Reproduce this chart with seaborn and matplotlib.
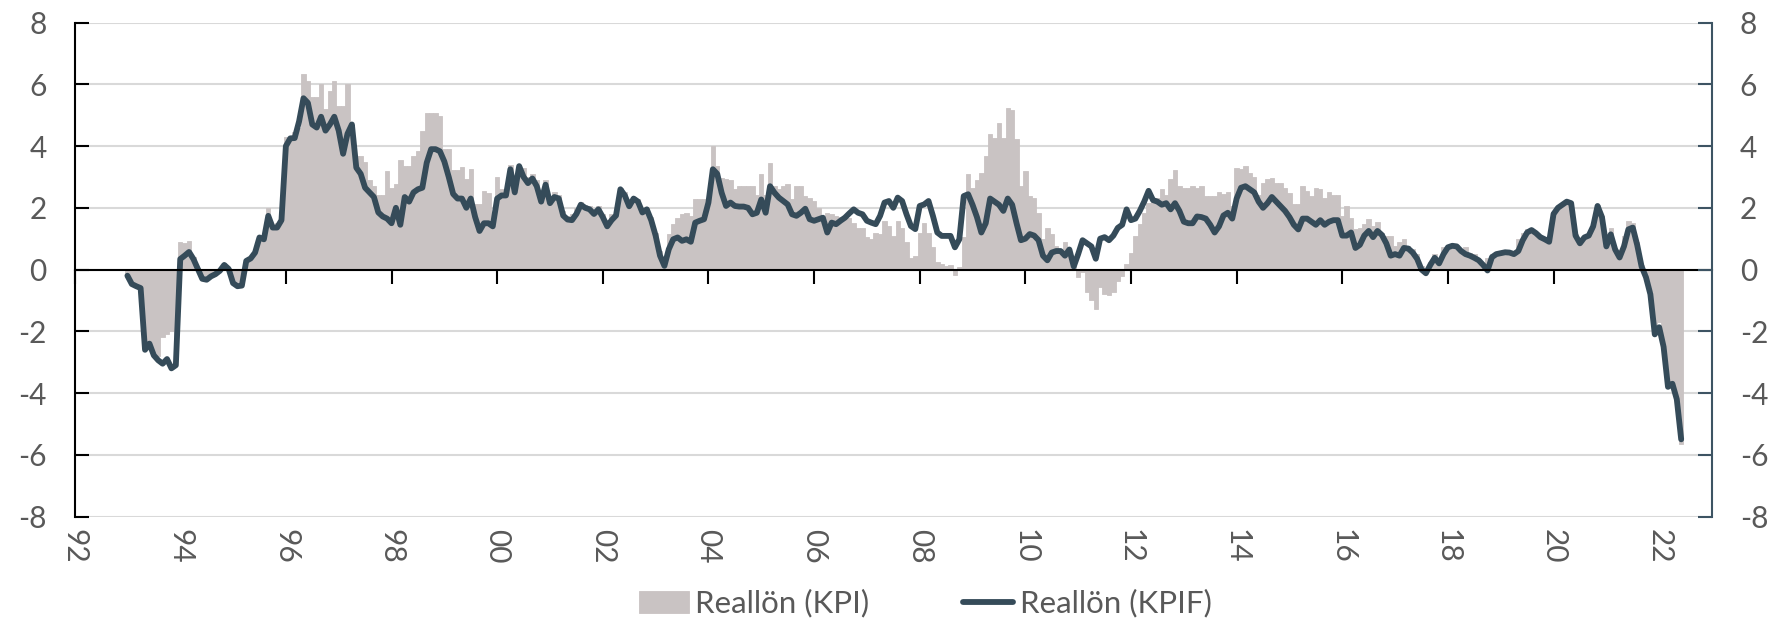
import matplotlib
matplotlib.use("Agg")
import matplotlib.pyplot as plt
import seaborn as sns
import numpy as np
import pandas as pd

# Monthly real wage growth, Jan 1993 - Jun 2022 (percent, y/y)
start_year = 1993

kpi = [
    # 1993
    -0.2, -0.45, -0.55, -0.6, -2.5, -2.4, -2.7, -2.8, -2.2, -2.1, -2.0, -2.9,
    # 1994
    0.88, 0.85, 0.93, 0.4, 0.05, -0.25, -0.3, -0.2, -0.1, 0.0, 0.2, 0.05,
    # 1995
    -0.4, -0.5, -0.45, 0.3, 0.4, 0.6, 1.1, 1.05, 2.0, 1.45, 1.5, 1.85,
    # 1996
    4.3, 4.3, 4.47, 4.6, 6.35, 6.1, 5.6, 5.6, 6.0, 5.2, 5.8, 6.1,
    # 1997
    5.3, 5.3, 6.0, 4.37, 3.67, 3.67, 3.5, 2.9, 2.7, 2.4, 2.4, 3.2,
    # 1998
    2.65, 2.76, 3.56, 3.35, 3.35, 3.67, 3.83, 4.48, 5.07, 5.07, 5.07, 4.96,
    # 1999
    3.9, 3.9, 3.24, 3.24, 3.33, 2.92, 3.26, 2.11, 2.11, 2.56, 2.49, 1.6,
    # 2000
    3.0, 2.6, 2.6, 3.4, 3.0, 3.4, 3.3, 3.0, 3.1, 2.9, 2.4, 2.9,
    # 2001
    2.3, 2.5, 2.4, 1.9, 1.75, 1.8, 2.0, 2.2, 2.1, 2.05, 1.95, 2.05,
    # 2002
    1.8, 1.6, 1.8, 1.85, 2.65, 2.5, 2.15, 2.35, 2.3, 1.95, 2.0, 1.7,
    # 2003
    1.2, 0.6, 0.3, 1.15, 1.47, 1.68, 1.79, 1.84, 1.75, 2.3, 2.3, 2.3,
    # 2004
    2.3, 4.0, 3.35, 2.97, 2.92, 2.9, 2.6, 2.7, 2.7, 2.7, 2.7, 2.43,
    # 2005
    3.08, 2.43, 3.46, 2.7, 2.6, 2.7, 2.76, 2.27, 2.7, 2.7, 2.38, 2.33,
    # 2006
    2.22, 2.0, 1.74, 1.84, 1.8, 1.74, 1.7, 1.74, 1.68, 1.52, 1.36, 1.36,
    # 2007
    1.04, 0.98, 1.2, 1.15, 1.58, 1.41, 1.09, 1.58, 1.36, 0.88, 0.39, 0.45,
    # 2008
    1.2, 1.52, 1.2, 0.72, 0.23, 0.18, 0.12, 0.15, -0.18, 0.07, 1.04, 3.08,
    # 2009
    2.65, 2.9, 3.13, 3.67, 4.4, 4.26, 4.75, 4.26, 5.23, 5.18, 4.23, 2.7,
    # 2010
    3.2, 2.38, 2.33, 1.84, 0.98, 1.36, 1.15, 0.77, 0.55, 0.88, 0.55, 0.12,
    # 2011
    -0.25, -0.09, -0.74, -1.0, -1.27, -0.58, -0.79, -0.82, -0.74, -0.36, -0.2, 0.18,
    # 2012
    0.55, 1.09, 1.47, 1.84, 2.17, 2.27, 2.33, 2.6, 2.43, 2.92, 3.24, 2.7,
    # 2013
    2.65, 2.65, 2.7, 2.65, 2.7, 2.38, 2.38, 2.38, 2.5, 2.45, 2.5, 2.06,
    # 2014
    3.3, 3.25, 3.35, 3.13, 3.0, 2.4, 2.81, 2.94, 2.97, 2.81, 2.81, 2.65,
    # 2015
    2.49, 2.11, 2.11, 2.7, 2.54, 2.38, 2.65, 2.6, 2.33, 2.51, 2.43, 2.43,
    # 2016
    1.74, 2.06, 1.68, 1.3, 1.36, 1.47, 1.65, 1.41, 1.54, 1.2, 1.09, 1.09,
    # 2017
    0.77, 0.88, 0.98, 0.77, 0.66, 0.5, 0.12, 0.0, 0.23, 0.5, 0.39, 0.72,
    # 2018
    0.8, 0.8, 0.8, 0.66, 0.72, 0.55, 0.5, 0.33, 0.07, 0.39, 0.5, 0.5,
    # 2019
    0.5, 0.5, 0.5, 0.45, 0.98, 1.2, 1.3, 1.3, 1.2, 1.1, 1.0, 0.95,
    # 2020
    1.85, 2.05, 2.15, 2.25, 2.2, 1.15, 0.9, 1.05, 1.15, 1.45, 2.1, 1.75,
    # 2021
    0.8, 1.36, 0.7, 0.45, 1.09, 1.58, 1.5, 0.9, 0.15, -0.1, -0.7, -1.8,
    # 2022
    -1.7, -2.4, -3.6, -3.8, -4.3, -5.65,
]

kpif = [
    # 1993
    -0.2, -0.47, -0.54, -0.6, -2.6, -2.4, -2.78, -2.94, -3.05, -2.9, -3.2, -3.1,
    # 1994
    0.34, 0.45, 0.57, 0.34, 0.02, -0.3, -0.33, -0.22, -0.15, -0.04, 0.15, 0.02,
    # 1995
    -0.44, -0.54, -0.52, 0.28, 0.36, 0.55, 1.04, 0.98, 1.74, 1.36, 1.36, 1.6,
    # 1996
    4.0, 4.25, 4.26, 4.8, 5.55, 5.4, 4.7, 4.6, 4.95, 4.5, 4.7, 4.95,
    # 1997
    4.5, 3.75, 4.4, 4.7, 3.3, 3.1, 2.65, 2.5, 2.35, 1.85, 1.72, 1.65,
    # 1998
    1.5, 2.0, 1.45, 2.35, 2.2, 2.5, 2.6, 2.65, 3.46, 3.9, 3.9, 3.83,
    # 1999
    3.5, 3.0, 2.45, 2.3, 2.3, 2.0, 2.3, 1.7, 1.25, 1.5, 1.5, 1.4,
    # 2000
    2.3, 2.4, 2.4, 3.25, 2.5, 3.35, 3.0, 2.8, 2.95, 2.7, 2.2, 2.75,
    # 2001
    2.15, 2.35, 2.3, 1.75, 1.62, 1.6, 1.8, 2.1, 2.0, 1.95, 1.8, 1.95,
    # 2002
    1.7, 1.4, 1.6, 1.75, 2.6, 2.4, 2.05, 2.3, 2.2, 1.85, 1.95, 1.6,
    # 2003
    1.1, 0.45, 0.12, 0.66, 0.98, 1.04, 0.93, 0.98, 0.9, 1.52, 1.58, 1.63,
    # 2004
    2.17, 3.25, 3.1, 2.49, 2.06, 2.17, 2.06, 2.04, 2.04, 2.0, 1.79, 1.84,
    # 2005
    2.27, 1.84, 2.7, 2.49, 2.33, 2.22, 2.11, 1.79, 1.74, 1.84, 1.97, 1.63,
    # 2006
    1.58, 1.63, 1.68, 1.2, 1.52, 1.47, 1.58, 1.68, 1.82, 1.95, 1.84, 1.79,
    # 2007
    1.58, 1.52, 1.47, 1.74, 2.17, 2.22, 2.0, 2.33, 2.22, 1.79, 1.41, 1.31,
    # 2008
    2.06, 2.11, 2.22, 1.74, 1.2, 1.09, 1.09, 1.09, 0.72, 0.98, 2.38, 2.44,
    # 2009
    2.1, 1.7, 1.2, 1.5, 2.3, 2.2, 2.1, 1.9, 2.3, 2.1, 1.5, 0.95,
    # 2010
    1.0, 1.15, 1.1, 0.95, 0.45, 0.3, 0.55, 0.6, 0.6, 0.45, 0.65, 0.1,
    # 2011
    0.5, 0.95, 0.85, 0.75, 0.35, 1.0, 1.05, 0.95, 1.1, 1.35, 1.45, 1.95,
    # 2012
    1.6, 1.65, 1.9, 2.2, 2.55, 2.25, 2.2, 2.1, 2.15, 1.95, 2.15, 1.9,
    # 2013
    1.55, 1.5, 1.5, 1.72, 1.7, 1.65, 1.45, 1.2, 1.4, 1.75, 1.84, 1.65,
    # 2014
    2.3, 2.65, 2.7, 2.6, 2.5, 2.2, 2.0, 2.15, 2.35, 2.2, 2.05, 1.9,
    # 2015
    1.7, 1.45, 1.3, 1.65, 1.65, 1.55, 1.45, 1.6, 1.45, 1.55, 1.6, 1.6,
    # 2016
    1.1, 1.1, 1.2, 0.7, 0.8, 1.1, 1.25, 1.05, 1.25, 1.12, 0.85, 0.45,
    # 2017
    0.5, 0.45, 0.7, 0.68, 0.55, 0.35, 0.0, -0.12, 0.15, 0.38, 0.2, 0.5,
    # 2018
    0.72, 0.77, 0.75, 0.6, 0.5, 0.45, 0.38, 0.3, 0.15, -0.03, 0.4, 0.5,
    # 2019
    0.53, 0.56, 0.55, 0.5, 0.6, 0.95, 1.2, 1.28, 1.18, 1.05, 0.98, 0.9,
    # 2020
    1.8, 2.0, 2.1, 2.2, 2.15, 1.1, 0.85, 1.04, 1.1, 1.4, 2.06, 1.7,
    # 2021
    0.75, 1.14, 0.65, 0.39, 0.75, 1.3, 1.36, 0.8, 0.1, -0.25, -0.8, -2.1,
    # 2022
    -1.87, -2.5, -3.8, -3.7, -4.2, -5.5,
]

tick_years = list(range(1992, 2023, 2))
tick_labels = [f"{y % 100:02d}" for y in tick_years]
y_ticks = list(range(-8, 9, 2))

BAR = "#c9c3c3"
LINE = "#354b59"
TXT = "#595959"
GRID = "#d9d9d9"

df = pd.DataFrame({
    "month": np.arange(len(kpi)),
    "kpi": kpi,
    "kpif": kpif,
})
tick_pos = [(y - start_year) * 12 for y in tick_years]

sns.set_theme(style="white")
plt.rcParams["font.family"] = ["Lato", "DejaVu Sans"]

fig = plt.figure(figsize=(17.76, 6.18), dpi=100)
ax = fig.add_axes([74.6 / 1776, 1 - 516.5 / 618, (1712 - 74.6) / 1776, (516.5 - 22.6) / 618])

sns.barplot(data=df, x="month", y="kpi", native_scale=True, width=1.0,
            color=BAR, saturation=1, errorbar=None, edgecolor=BAR,
            linewidth=0.6, label="Reallön (KPI)", ax=ax, legend=False)
sns.lineplot(data=df, x="month", y="kpif", color=LINE, linewidth=4.2,
             label="Reallön (KPIF)", ax=ax, legend=False)
for ln in ax.lines:
    ln.set_solid_joinstyle("round")
    ln.set_solid_capstyle("round")

ax.set_xlim(-12, 360)
ax.set_ylim(-8, 8)
ax.set_xlabel("")
ax.set_ylabel("")
ax.set_axisbelow(True)
ax.yaxis.grid(True, color=GRID, linewidth=1.5)
ax.xaxis.grid(False)

# zero axis with outward ticks; labels live on a secondary axis at the bottom
ax.spines["bottom"].set_position(("data", 0))
ax.spines["bottom"].set_color("black")
ax.spines["bottom"].set_linewidth(1.5)
ax.spines["bottom"].set_zorder(3)
ax.spines["top"].set_visible(False)
ax.spines["right"].set_visible(False)
ax.spines["left"].set_color("black")
ax.spines["left"].set_linewidth(1.5)
ax.set_xticks(tick_pos)
ax.tick_params(axis="x", bottom=True, direction="out", length=10, width=1.5,
               color="black", labelbottom=False)
ax.set_yticks(y_ticks)
ax.set_yticklabels([str(v) for v in y_ticks])
ax.tick_params(axis="y", left=True, direction="in", length=10, width=1.5,
               color="black", labelcolor=TXT, labelsize=21.5, pad=20)

sec = ax.secondary_xaxis(0.0)
sec.set_xticks(tick_pos, labels=tick_labels)
sec.tick_params(length=0, pad=9, labelsize=21.5, labelcolor=TXT, labelrotation=270)
sec.spines["bottom"].set_visible(False)

axr = ax.twinx()
axr.set_ylim(-8, 8)
axr.set_yticks(y_ticks)
axr.set_yticklabels([str(v) for v in y_ticks])
for side in ["top", "bottom", "left"]:
    axr.spines[side].set_visible(False)
axr.spines["right"].set_color("#3d5463")
axr.spines["right"].set_linewidth(1.5)
axr.tick_params(axis="y", right=True, direction="in", length=10, width=1.5,
                color="#3d5463", labelcolor=TXT, labelsize=21.5, pad=20)
axr.grid(False)

handles, labels = ax.get_legend_handles_labels()
order = [labels.index("Reallön (KPI)"), labels.index("Reallön (KPIF)")]
fig.legend([handles[i] for i in order], [labels[i] for i in order],
           loc="center", bbox_to_anchor=(0.521, 0.024),
           ncol=2, frameon=False, fontsize=22.5, labelcolor=TXT,
           handlelength=1.6, handletextpad=0.2, columnspacing=3.0)

fig.savefig("out.png", dpi=100)
